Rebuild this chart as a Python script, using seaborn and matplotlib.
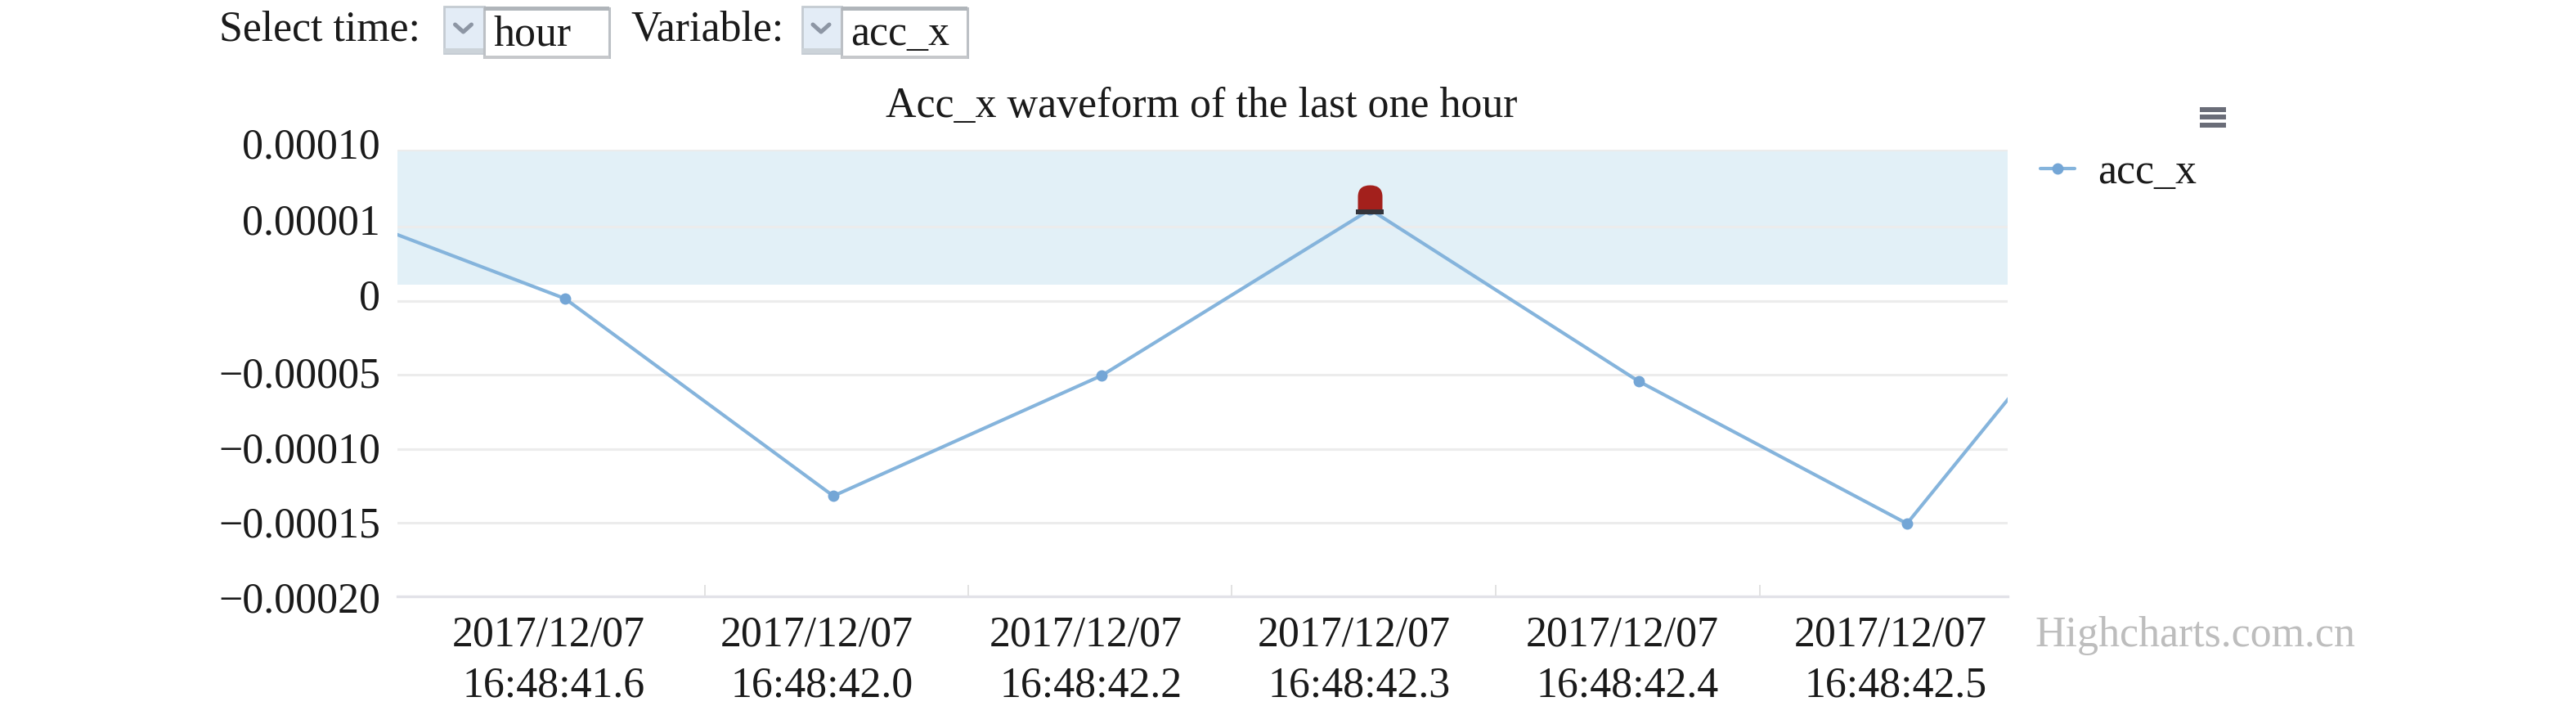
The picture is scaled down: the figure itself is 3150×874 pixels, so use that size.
import numpy as np
import pandas as pd
import matplotlib
matplotlib.use("Agg")
import matplotlib.pyplot as plt
from matplotlib.patches import Rectangle
from matplotlib.path import Path
from matplotlib.transforms import ScaledTranslation
import seaborn as sns

# ---- data ----
point_index = [-1, 0, 1, 2, 3, 4, 5, 6]
acc_x = [7.1e-5, 0.17e-5, -13.2e-5, -5.04e-5, 6.2e-5, -5.43e-5, -15.07e-5, 7.3e-5]
alarm_index = [3]
alarm_value = [6.2e-5]

x_label_positions = [0, 1, 2, 3, 4, 5]
x_labels = ["2017/12/07\n16:48:41.6", "2017/12/07\n16:48:42.0", "2017/12/07\n16:48:42.2",
            "2017/12/07\n16:48:42.3", "2017/12/07\n16:48:42.4", "2017/12/07\n16:48:42.5"]
x_tick_marks = [0.523, 1.503, 2.485, 3.468, 4.452]

y_tick_values = [10.25e-5, 5.05e-5, 0, -5e-5, -10e-5, -15e-5, -20e-5]
y_labels = ["0.00010", "0.00001", "0", "\u22120.00005", "\u22120.00010", "\u22120.00015", "\u22120.00020"]
y_label_shift_px = [8, 9, 8, 3, 2, 1, -1]
band_low, band_high = 1.1e-5, 10.25e-5

title = "Acc_x waveform of the last one hour"
series_name = "acc_x"

W, H = 3150, 874
FS = 37.4
SERIF = "Liberation Serif"

sns.set_theme(style="white")
plt.rcParams["font.family"] = [SERIF, "DejaVu Sans"]
plt.rcParams["axes.unicode_minus"] = True

fig = plt.figure(figsize=(W / 100, H / 100), dpi=100, facecolor="white")
L, R, T, B = 486, 2455, 183, 729
ax = fig.add_axes([L / W, 1 - B / H, (R - L) / W, (B - T) / H])

df = pd.DataFrame({"i": point_index, series_name: acc_x})
LINE = "#85b4dc"
ax.axhspan(band_low, band_high, facecolor="#e2f0f7", edgecolor="none", zorder=0.5)
sns.lineplot(data=df, x="i", y=series_name, ax=ax, color=LINE, linewidth=3.0, marker="o",
             markersize=10, markeredgewidth=0, markerfacecolor="#74a6d6",
             label=series_name, estimator=None, sort=False, zorder=3)

# alarm lamp on the peak, anchored to the data point
dome = Path([(-15, 0), (-15, 16), (-15, 30), (0, 30), (15, 30), (15, 16), (15, 0), (-15, 0)],
            [Path.MOVETO, Path.LINETO, Path.CURVE3, Path.CURVE3, Path.CURVE3, Path.CURVE3, Path.LINETO, Path.CLOSEPOLY])
base = Path([(-17, 0), (17, 0), (17, -6), (-17, -6), (-17, 0)],
            [Path.MOVETO, Path.LINETO, Path.LINETO, Path.LINETO, Path.CLOSEPOLY])
ax.scatter(alarm_index, alarm_value, marker=dome, s=(2 * 30 * 0.72) ** 2, c="#a3201c", linewidths=0, zorder=5)
ax.scatter(alarm_index, alarm_value, marker=base, s=(2 * 17 * 0.72) ** 2, c="#33343a", linewidths=0, zorder=6)

ax.set_xlim(-0.624, 5.375)
ax.set_ylim(-20e-5, 10.25e-5)
ax.set_xlabel("")
ax.set_ylabel("")

ax.set_yticks(y_tick_values)
ax.set_yticklabels(y_labels, fontsize=FS, color="#1a1a1a")
ax.yaxis.grid(True, color="#ececec", linewidth=2.2, zorder=1)
ax.set_axisbelow(True)
ax.tick_params(axis="y", length=0, pad=15)
for lab, dy in zip(ax.get_yticklabels(), y_label_shift_px):
    lab.set_transform(lab.get_transform() + ScaledTranslation(0, dy / 100, fig.dpi_scale_trans))

ax.set_xticks(x_label_positions)
ax.set_xticklabels(x_labels, fontsize=FS, color="#1a1a1a", linespacing=1.37, multialignment="right")
ax.tick_params(axis="x", which="major", length=0, pad=17)
for lab in ax.get_xticklabels():
    lab.set_transform(lab.get_transform() + ScaledTranslation(-20 / 100, 0, fig.dpi_scale_trans))
ax.set_xticks(x_tick_marks, minor=True)
ax.tick_params(axis="x", which="minor", direction="in", length=10, width=1.2, color="#dddddd", bottom=True)

for s in ["top", "left", "right"]:
    ax.spines[s].set_visible(False)
ax.spines["bottom"].set_color("#e2e2e8")
ax.spines["bottom"].set_linewidth(2.4)

leg = ax.legend(loc="center left", bbox_to_anchor=(2495 / W, 1 - 211 / H), bbox_transform=fig.transFigure,
                frameon=False, fontsize=FS, handlelength=0.8, handletextpad=0.55, borderpad=0, borderaxespad=0)
for t in leg.get_texts():
    t.set_color("#1a1a1a")

# overlay in pixel units for page furniture around the chart
ui = fig.add_axes([0, 0, 1, 1], zorder=10)
ui.set_xlim(0, W)
ui.set_ylim(H, 0)
ui.axis("off")
ui.patch.set_alpha(0)

def label(x, y, s, **kw):
    kw.setdefault("color", "#1a1a1a")
    kw.setdefault("fontsize", FS)
    ui.text(x, y, s, va="baseline", **kw)

def dropdown(x0, x1, x2, text):
    ui.add_patch(Rectangle((x0, 8), x1 - x0, 57, facecolor="#e3ecf6", edgecolor="#c4cbd2", linewidth=2))
    ui.add_patch(Rectangle((x0, 59), x1 - x0, 6, facecolor="#ccd3d9", edgecolor="none"))
    cx = (x0 + x1) / 2 - 1
    ui.plot([cx - 10, cx, cx + 10], [30, 39, 30], color="#8d96a4", linewidth=3.6)
    ui.add_patch(Rectangle((x1, 10), x2 - x1, 60, facecolor="white", edgecolor="#bcc0c5", linewidth=2.2))
    ui.add_patch(Rectangle((x1, 8), x2 - x1, 5, facecolor="#b0b5ba", edgecolor="none"))
    ui.add_patch(Rectangle((x1, 68), x2 - x1, 4, facecolor="#c6c8cb", edgecolor="none"))
    label(x1 + 11, 55, text)

label(268, 49, "Select time:")
dropdown(543, 592, 745, "hour")
label(771, 49, "Variable:")
dropdown(981, 1029, 1183, "acc_x")

ui.text(1469, 143, title, ha="center", va="baseline", fontsize=FS, color="#1a1a1a")
ui.text(2488, 790, "Highcharts.com.cn", ha="left", va="baseline", fontsize=FS, color="#bdbdbd")

for yy in (134, 143, 153):
    ui.add_patch(Rectangle((2690, yy - 3), 32, 6, facecolor="#6a6d78", edgecolor="none"))

fig.savefig("out.png", dpi=100, facecolor="white")
